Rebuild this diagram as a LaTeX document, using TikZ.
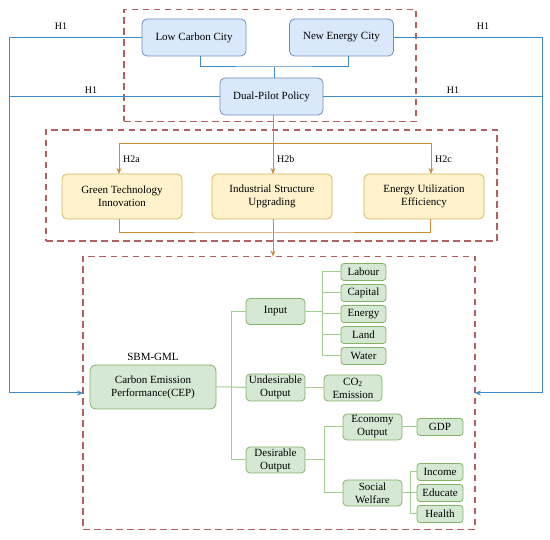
\documentclass[tikz,border=0pt]{standalone}
\usepackage{fontspec}
\setmainfont{Liberation Serif}
\usetikzlibrary{arrows.meta}
\definecolor{bfill}{HTML}{DAE8FC}
\definecolor{bdraw}{HTML}{6C8EBF}
\definecolor{ofill}{HTML}{FFF2CC}
\definecolor{odraw}{HTML}{D6B656}
\definecolor{gfill}{HTML}{D5E8D4}
\definecolor{gdraw}{HTML}{82B366}
\definecolor{bline}{HTML}{3D8BCB}
\definecolor{oline}{HTML}{CF8B3A}
\definecolor{gline}{HTML}{A2CF8E}
\definecolor{dred}{HTML}{B0605E}
\tikzset{
  box/.style={rounded corners=5pt, line width=0.8pt, align=center, inner sep=1pt, outer sep=0pt,
    font=\fontsize{11}{13}\selectfont},
  bluebox/.style={box, draw=bdraw, fill=bfill, minimum width=104pt, minimum height=37pt},
  orangebox/.style={box, draw=odraw, fill=ofill, minimum width=120pt, minimum height=45pt},
  greenbox/.style={box, draw=gdraw, fill=gfill, minimum width=59pt, minimum height=26pt, rounded corners=4pt},
  smallbox/.style={box, draw=gdraw, fill=gfill, minimum width=45pt, minimum height=17pt, rounded corners=3pt},
  dashbox/.style={draw=dred, line width=1.3pt, dash pattern=on 6.5pt off 4.5pt, inner sep=0pt, outer sep=0pt},
  blueline/.style={draw=bline, line width=1pt},
  orangeline/.style={draw=oline, line width=1pt},
  greenline/.style={draw=gline, line width=1pt},
  tip/.style={-{Stealth[length=6pt,width=5pt]}},
  lab/.style={font=\fontsize{10}{12}\selectfont, inner sep=0pt}
}
\begin{document}
\begin{tikzpicture}[x=1pt,y=-1pt]
\useasboundingbox (0,0) rectangle (550,540);
% dashed group boxes
\node[dashbox, minimum width=292pt, minimum height=112pt] (topbox) at (270,65.5) {};
\node[dashbox, minimum width=451pt, minimum height=111pt] (midbox) at (271.5,185.5) {};
\node[dashbox, minimum width=392pt, minimum height=273pt] (botbox) at (279,393) {};

% top blue nodes
\node[bluebox] (lcc) at (194,37.5) {Low Carbon City};
\node[bluebox] (nec) at (341.5,37.5) {New Energy City};
\node[bluebox, minimum width=103pt] (dpp) at (271.5,96.5) {Dual-Pilot Policy};
\coordinate (jn) at (274,67);
\draw[blueline] ([xshift=6pt]lcc.south) |- (jn) -| ([xshift=6.5pt]nec.south);
\draw[blueline] (jn) -- (jn |- dpp.north);

% H1 lines
\coordinate (ltop) at (9,37.5);
\coordinate (rtop) at (542,37.5);
\draw[blueline, tip] (lcc.west) -- (ltop) -- (ltop |- botbox.west) -- (botbox.west);
\draw[blueline] (dpp.west) -- (dpp.west -| ltop);
\draw[blueline, tip] (nec.east) -- (rtop) -- (rtop |- botbox.east) -- (botbox.east);
\draw[blueline] (dpp.east) -- (dpp.east -| rtop);
\node[lab] (h1a) at (61,26) {H1};
\node[lab] (h1b) at (483,26) {H1};
\node[lab] (h1c) at (91,90) {H1};
\node[lab] (h1d) at (453,90) {H1};

% orange mediators
\node[orangebox] (gti) at (122,196.5) {Green Technology\\Innovation};
\node[orangebox] (isu) at (272,196.5) {Industrial Structure\\Upgrading};
\node[orangebox] (eue) at (424,196.5) {Energy Utilization\\Efficiency};
\coordinate (oj) at (273,144);
\coordinate (ob) at (273,233);
\draw[orangeline] ([xshift=1.5pt]dpp.south) -- (oj);
\draw[orangeline, tip] (oj) -- (oj |- isu.north);
\draw[orangeline, tip] (oj) -| ([xshift=-3pt]gti.north);
\draw[orangeline, tip] (oj) -| ([xshift=7pt]eue.north);
\node[lab, anchor=west] (h2a) at (123,159) {H2a};
\node[lab, anchor=west] (h2b) at (277,159) {H2b};
\node[lab, anchor=west] (h2c) at (435,159) {H2c};
\draw[orangeline] ([xshift=-3pt]gti.south) |- (ob) -| ([xshift=6pt]eue.south);
\draw[orangeline, tip] (ob |- isu.south) -- (ob |- botbox.north);

% green evaluation tree
\node[lab, font=\fontsize{11}{13}\selectfont] (sbm) at (153,357) {SBM-GML};
\node[greenbox, minimum width=126pt, minimum height=44pt, rounded corners=6pt] (cep) at (153,387) {Carbon Emission\\Performance(CEP)};
\node[greenbox] (inp) at (275.5,311.5) {Input};
\node[greenbox, minimum height=27pt] (und) at (275.5,387.5) {Undesirable\\Output};
\node[greenbox] (des) at (275.5,460) {Desirable\\Output};
\coordinate (gj) at (231,387);
\draw[greenline] (cep.east) -- (gj) -- (und.west);
\draw[greenline] (gj) |- (inp.west);
\draw[greenline] (gj) |- (des.west);

\node[smallbox] (lab1) at (363.5,272) {Labour};
\node[smallbox] (lab2) at (363.5,293) {Capital};
\node[smallbox] (lab3) at (363.5,314) {Energy};
\node[smallbox] (lab4) at (363.5,335) {Land};
\node[smallbox] (lab5) at (363.5,356) {Water};
\coordinate (ij) at (322,311.5);
\draw[greenline] (inp.east) -- (ij);
\foreach \n in {lab1,lab2,lab3,lab4,lab5} \draw[greenline] (ij) |- (\n.west);

\node[greenbox, minimum width=58pt] (co2) at (353,388) {CO\textsubscript{2}\\Emission};
\draw[greenline] (und.east) -- (und.east -| co2.west);

\node[greenbox] (eco) at (372.5,427) {Economy\\Output};
\node[greenbox] (soc) at (372.5,493) {Social\\Welfare};
\coordinate (dj) at (324,460);
\draw[greenline] (des.east) -- (dj);
\draw[greenline] (dj) |- (eco.west);
\draw[greenline] (dj) |- (soc.west);

\node[smallbox, minimum width=46pt] (gdp) at (440,427) {GDP};
\draw[greenline] (eco.east) -- (gdp.west);

\node[smallbox, minimum width=46pt] (inc) at (440,472) {Income};
\node[smallbox, minimum width=46pt] (edu) at (440,493) {Educate};
\node[smallbox, minimum width=46pt] (hea) at (440,514) {Health};
\coordinate (sj) at (410,493);
\draw[greenline] (soc.east) -- (sj);
\foreach \n in {inc,edu,hea} \draw[greenline] (sj) |- (\n.west);
\end{tikzpicture}
\end{document}
